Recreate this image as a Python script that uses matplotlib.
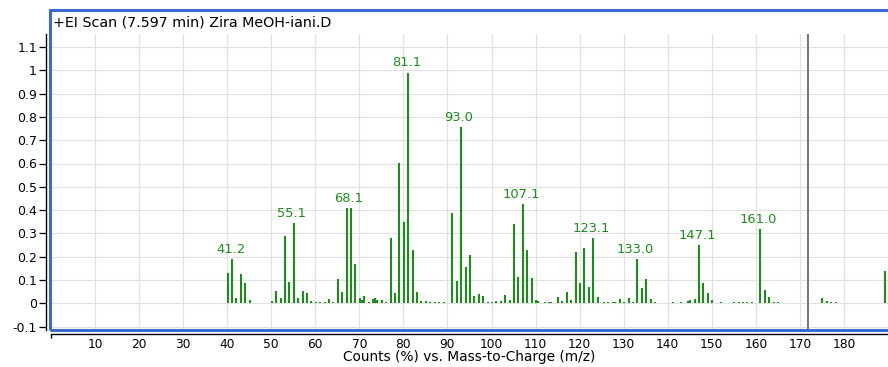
import matplotlib
matplotlib.use("Agg")
import matplotlib.pyplot as plt
from matplotlib.patches import Rectangle
import numpy as np

# m/z positions and relative counts
mz = [40.1, 41.2, 42.1, 43.1, 44.1, 45.1,
      50.1, 51.1, 52.1, 53.1, 54.1, 55.1, 56.1, 57.1, 58.1, 59.1, 60.1, 61.1, 62.1, 63.1, 64.1,
      65.1, 66.1, 67.1, 68.1, 69.1, 70.1, 70.5, 71.1, 72.1, 73.1, 73.5, 74.1, 75.1, 76.1,
      77.1, 78.1, 79.1, 80.1, 81.1, 82.1, 83.1, 84.1, 85.1, 86.1, 87.1, 88.1, 89.1,
      91.1, 92.1, 93.0, 94.1, 95.1, 96.1, 97.1, 98.1, 99.1, 100.1, 101.1, 102.1, 103.1, 104.1,
      105.1, 106.1, 107.1, 108.1, 109.1, 110.1, 110.5, 112.1, 113.1, 113.6, 115.1, 116.1, 117.1,
      118.1, 119.1, 120.1, 121.1, 122.1, 123.1, 124.1, 125.5, 126.5, 127.6, 128.1, 129.1, 130.1,
      131.1, 132.1, 133.0, 134.1, 135.1, 136.1, 137.1, 138.1, 139.1, 140.1, 141.1, 142.1, 143.1,
      144.5, 145.1, 146.1, 147.1, 148.1, 149.1, 150.1, 151.1, 152.1, 153.1, 154.1, 155.1, 156.1,
      157.1, 158.1, 159.1, 160.1, 161.0, 162.1, 163.1, 164.1, 165.1, 166.1, 167.1, 171.1, 172.8,
      175.1, 176.1, 177.1, 178.1, 179.1, 180.1, 182.1, 187.1, 189.3]
counts = [0.129, 0.19, 0.021, 0.124, 0.086, 0.014,
          0.011, 0.053, 0.021, 0.289, 0.09, 0.343, 0.021, 0.053, 0.043, 0.01, 0.004, 0.007, 0.004, 0.018, 0.005,
          0.104, 0.048, 0.408, 0.408, 0.169, 0.021, 0.013, 0.03, 0.005, 0.02, 0.022, 0.015, 0.015, 0.005,
          0.279, 0.043, 0.604, 0.348, 0.99, 0.229, 0.047, 0.01, 0.012, 0.004, 0.004, 0.004, 0.006,
          0.386, 0.097, 0.755, 0.157, 0.207, 0.031, 0.04, 0.03, 0.005, 0.006, 0.008, 0.01, 0.036, 0.014,
          0.34, 0.113, 0.425, 0.229, 0.107, 0.013, 0.01, 0.005, 0.004, 0.004, 0.028, 0.01, 0.05,
          0.015, 0.22, 0.087, 0.237, 0.071, 0.28, 0.028, 0.004, 0.004, 0.004, 0.007, 0.018, 0.007,
          0.021, 0.005, 0.19, 0.064, 0.103, 0.018, 0.004, 0.003, 0.003, 0.003, 0.004, 0.003, 0.004,
          0.012, 0.015, 0.02, 0.25, 0.086, 0.043, 0.014, 0.003, 0.004, 0.003, 0.003, 0.004, 0.004,
          0.004, 0.004, 0.005, 0.003, 0.318, 0.057, 0.026, 0.004, 0.004, 0.003, 0.003, 0.003, 0.003,
          0.021, 0.008, 0.004, 0.004, 0.003, 0.003, 0.003, 0.003, 0.139]

labelled_mz = [41.2, 55.1, 68.1, 81.1, 93.0, 107.1, 123.1, 133.0, 147.1, 161.0]
cursor_mz = 171.8

title = "+EI Scan (7.597 min) Zira MeOH-iani.D"
xlabel = "Counts (%) vs. Mass-to-Charge (m/z)"
xticks = list(range(10, 190, 10))
yticks = [round(-0.1 + 0.1 * i, 1) for i in range(13)]

green = "#1c8c1c"
blue = "#3a6cd0"

plt.rcParams['font.family'] = ['DejaVu Sans']

W, H = 888, 367
fig = plt.figure(figsize=(W / 100, H / 100), dpi=100)
ax = fig.add_axes([51 / W, (H - 330) / H, (W - 51) / W, (330 - 34) / H])

ax.vlines(mz, 0, counts, color=green, lw=1.5, zorder=3)
for m in labelled_mz:
    c = counts[mz.index(m)]
    ax.annotate("%.1f" % m, (m, c), xytext=(-1.4, 2.5), textcoords="offset points",
                ha="center", va="bottom", color=green, fontsize=9.4, zorder=4)

ax.axvline(cursor_mz, color="#6a6a6a", lw=1.3, zorder=4)

ax.set_xlim(0, 190)
ax.set_ylim(-0.1146, 1.1558)
ax.set_xticks(xticks)
ax.set_xticklabels([str(t) for t in xticks])
ax.set_yticks(yticks)
ax.set_yticklabels(["%g" % t for t in yticks])
ax.set_xticks([0], minor=True)
ax.tick_params(axis="x", which="major", length=0, pad=2.6, labelsize=8.8)
ax.tick_params(axis="x", which="minor", length=3, width=1, direction="out")
ax.tick_params(axis="y", length=5, width=0.9, pad=1.5, labelsize=9.0)
ax.grid(True, color="#e2e2e2", lw=0.9, zorder=0)
ax.set_axisbelow(True)

for s in ["top", "right"]:
    ax.spines[s].set_visible(False)
ax.spines["left"].set_position(("outward", 3.6))
ax.spines["bottom"].set_position(("outward", 2.9))
ax.spines["left"].set_linewidth(1.0)
ax.spines["bottom"].set_linewidth(1.0)

ax.set_xlabel(xlabel, fontsize=9.9, labelpad=-0.5)

# blue frame round plot + title strip
fig.add_artist(Rectangle((49.8 / W, (H - 330) / H), (W - 40) / W, (330 - 9.5) / H,
                         transform=fig.transFigure, fill=False, ec=blue, lw=2.2, clip_on=False))
fig.text(53 / W, (H - 22) / H, title, ha="left", va="center", fontsize=10.3)

fig.savefig("out.png", dpi=100)
